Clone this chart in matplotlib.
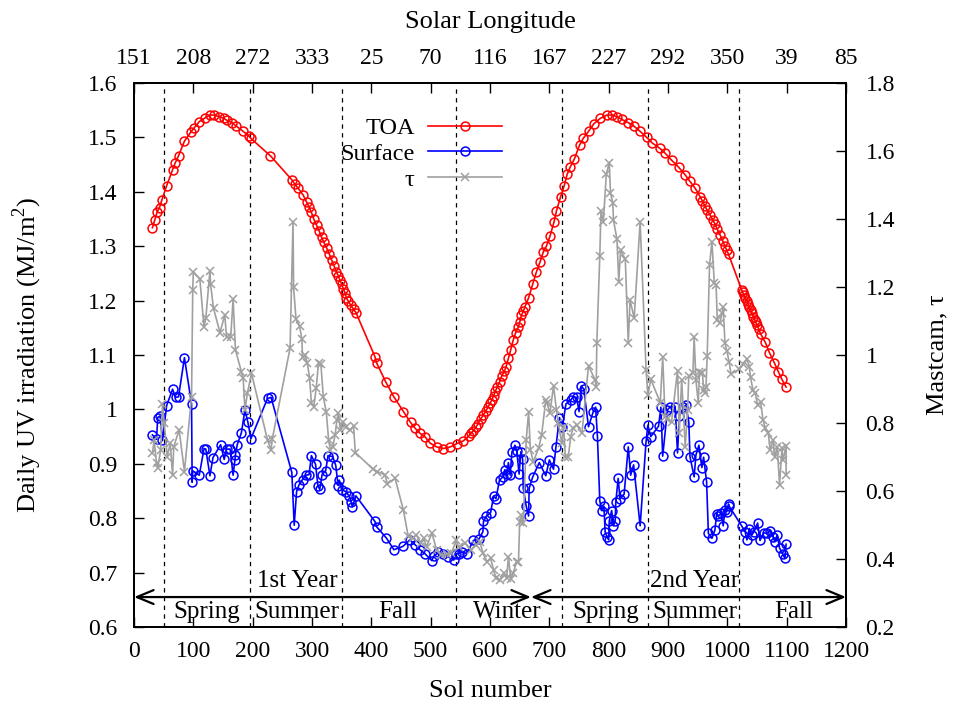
import matplotlib
matplotlib.use("Agg")
import matplotlib.pyplot as plt

plt.rcParams['font.family'] = ['Liberation Serif', 'DejaVu Serif']
plt.rcParams['mathtext.fontset'] = 'custom'
plt.rcParams['mathtext.rm'] = 'Liberation Serif'

# TOA daily UV (MJ/m^2); the second row of each list holds extra markers from the dense parts
toa_sol = [31, 35, 39, 43, 47, 55, 65, 69, 75, 85, 96, 101, 110, 120, 128, 134, 144, 151, 157, 165,
           172, 184, 193, 197, 230, 266, 271, 277, 285, 291, 299, 308, 316, 325, 333, 341, 347, 353,
           358, 365, 374, 406, 409, 424, 438, 454, 466, 474, 482, 491, 499, 510, 521, 533, 544, 555,
           564, 572, 580, 589, 597, 603, 609, 616, 627, 631, 639, 648, 653, 659, 665, 672, 678, 684,
           690, 695, 701, 708, 712, 719, 725, 730, 735, 742, 751, 757, 766, 775, 786, 797, 805, 814,
           822, 833, 842, 853, 864, 873, 886, 895, 906, 918, 929, 937, 946, 954, 962, 971, 979, 988,
           996, 1002, 1024, 1033, 1041, 1050, 1056, 1064, 1071, 1079, 1086, 1092, 1099,
           295, 303, 312, 320, 329, 337, 344, 350, 356, 361, 370, 568, 576, 584, 593, 600, 606, 612,
           620, 624, 635, 643, 650, 656, 958, 966, 975, 983, 992, 999, 1026, 1028, 1030, 1035, 1037,
           1039, 1044, 1046, 1048, 1053]
toa_val = [1.334, 1.348, 1.363, 1.371, 1.385, 1.411, 1.440, 1.452, 1.466, 1.493, 1.510, 1.517, 1.529,
           1.536, 1.541, 1.541, 1.538, 1.535, 1.531, 1.527, 1.521, 1.511, 1.503, 1.498, 1.466, 1.422,
           1.414, 1.406, 1.394, 1.381, 1.362, 1.338, 1.317, 1.296, 1.275, 1.253, 1.238, 1.221, 1.205,
           1.192, 1.178, 1.097, 1.085, 1.051, 1.023, 0.996, 0.976, 0.965, 0.956, 0.949, 0.938, 0.931,
           0.928, 0.931, 0.937, 0.942, 0.951, 0.961, 0.974, 0.990, 1.005, 1.017, 1.033, 1.050, 1.078,
           1.094, 1.127, 1.152, 1.173, 1.189, 1.205, 1.230, 1.252, 1.270, 1.290, 1.300, 1.318, 1.345,
           1.365, 1.391, 1.411, 1.432, 1.445, 1.460, 1.486, 1.498, 1.511, 1.525, 1.535, 1.541, 1.541,
           1.538, 1.533, 1.527, 1.521, 1.511, 1.500, 1.490, 1.480, 1.471, 1.458, 1.445, 1.431, 1.419,
           1.406, 1.391, 1.374, 1.357, 1.341, 1.320, 1.300, 1.285, 1.220, 1.199, 1.178, 1.155, 1.139,
           1.123, 1.104, 1.086, 1.069, 1.055, 1.041,
           1.372, 1.350, 1.328, 1.307, 1.286, 1.264, 1.246, 1.230, 1.213, 1.199, 1.184, 0.956, 0.967,
           0.982, 0.997, 1.011, 1.025, 1.041, 1.062, 1.070, 1.110, 1.140, 1.160, 1.180, 1.383, 1.366,
           1.349, 1.331, 1.310, 1.293, 1.215, 1.210, 1.205, 1.193, 1.188, 1.183, 1.170, 1.165, 1.160,
           1.147]

# Surface daily UV (MJ/m^2)
surf_sol = [31, 38, 40, 44, 48, 55, 65, 70, 75, 85, 97, 98, 99, 110, 118, 121, 128, 133, 146, 152,
            156, 162, 167, 170, 171, 174, 181, 187, 192, 197, 225, 231, 266, 270, 274, 278, 284, 290,
            295, 299, 306, 310, 313, 317, 323, 327, 335, 340, 344, 346, 350, 357, 363, 366, 368, 374,
            406, 409, 425, 438, 453, 465, 474, 482, 490, 502, 505, 513, 520, 530, 539, 542, 547, 552,
            561, 572, 581, 588, 589, 594, 601, 606, 610, 616, 622, 625, 628, 631, 634, 637, 642, 645,
            649, 652, 655, 656, 661, 665, 666, 672, 683, 694, 700, 707, 711, 717, 722, 728, 736, 740,
            746, 750, 754, 758, 766, 774, 778, 781, 785, 788, 792, 794, 797, 800, 801, 805, 808, 811,
            812, 816, 819, 826, 833, 837, 842, 853, 863, 866, 871, 884, 888, 891, 899, 903, 912, 916,
            919, 926, 930, 935, 937, 944, 947, 952, 957, 960, 965, 968, 974, 979, 982, 985, 989, 993,
            996, 999, 1002, 1003, 1024, 1030, 1033, 1037, 1041, 1045, 1051, 1055, 1061, 1066, 1072,
            1077, 1080, 1084, 1088, 1093, 1097, 1099]
surf_val = [0.953, 0.945, 0.985, 0.988, 0.943, 1.007, 1.037, 1.022, 1.023, 1.095, 1.010, 0.866, 0.887,
            0.879, 0.928, 0.927, 0.878, 0.911, 0.935, 0.908, 0.927, 0.927, 0.879, 0.906, 0.917, 0.935,
            0.957, 0.999, 0.976, 0.946, 1.020, 1.022, 0.884, 0.787, 0.849, 0.861, 0.871, 0.879, 0.880,
            0.915, 0.899, 0.859, 0.853, 0.880, 0.887, 0.915, 0.913, 0.897, 0.860, 0.870, 0.852, 0.849,
            0.840, 0.830, 0.821, 0.841, 0.794, 0.784, 0.764, 0.742, 0.748, 0.760, 0.751, 0.742, 0.735,
            0.722, 0.730, 0.737, 0.735, 0.729, 0.723, 0.734, 0.735, 0.738, 0.735, 0.759, 0.761, 0.775,
            0.794, 0.804, 0.810, 0.840, 0.836, 0.870, 0.876, 0.889, 0.881, 0.902, 0.879, 0.922, 0.934,
            0.924, 0.881, 0.922, 0.908, 0.855, 0.822, 0.804, 0.855, 0.876, 0.902, 0.878, 0.907, 0.890,
            0.930, 0.985, 0.968, 1.010, 1.017, 1.023, 1.022, 0.996, 1.043, 1.037, 0.968, 0.996, 1.004,
            0.951, 0.832, 0.814, 0.822, 0.775, 0.766, 0.760, 0.795, 0.814, 0.786, 0.795, 0.830, 0.873,
            0.836, 0.844, 0.931, 0.879, 0.898, 0.786, 0.941, 0.971, 0.950, 0.969, 1.004, 0.914, 0.999,
            1.004, 1.005, 0.920, 0.987, 1.004, 1.008, 0.977, 0.913, 0.876, 0.916, 0.934, 0.893, 0.912,
            0.867, 0.772, 0.763, 0.778, 0.808, 0.804, 0.809, 0.786, 0.815, 0.812, 0.826, 0.822, 0.786,
            0.775, 0.760, 0.781, 0.769, 0.775, 0.791, 0.759, 0.773, 0.772, 0.777, 0.766, 0.757, 0.769,
            0.745, 0.735, 0.726, 0.752]

# Mastcam optical depth
tau_sol = [31, 34, 38, 40, 45, 48, 51, 56, 61, 65, 67, 76, 85, 97, 99, 100, 111, 118, 121, 128, 129,
           134, 145, 153, 156, 163, 167, 171, 181, 184, 187, 191, 198, 225, 231, 233, 263, 268, 269,
           273, 279, 283, 284, 288, 292, 296, 299, 303, 307, 311, 315, 319, 324, 328, 331, 335, 339,
           342, 344, 348, 352, 357, 364, 370, 373, 403, 410, 423, 427, 440, 454, 462, 470, 476, 483,
           488, 493, 502, 510, 518, 527, 535, 543, 547, 558, 568, 577, 583, 588, 595, 601, 606, 610,
           617, 623, 628, 631, 635, 639, 645, 648, 650, 653, 656, 661, 665, 668, 673, 682, 687, 694,
           696, 701, 707, 712, 715, 721, 724, 727, 732, 736, 740, 746, 755, 766, 777, 779, 780, 785,
           787, 791, 796, 801, 803, 807, 808, 814, 817, 820, 828, 833, 836, 843, 853, 863, 866, 871,
           887, 891, 895, 899, 906, 916, 919, 923, 929, 933, 935, 942, 944, 947, 951, 953, 955, 958,
           960, 962, 964, 966, 970, 974, 978, 981, 983, 987, 991, 993, 996, 999, 1003, 1006, 1020,
           1027, 1033, 1037, 1039, 1043, 1047, 1051, 1056, 1060, 1064, 1069, 1072, 1077, 1080, 1084,
           1088, 1092, 1094, 1099, 1099]
tau_val = [0.711, 0.750, 0.681, 0.667, 0.721, 0.856, 0.799, 0.701, 0.740, 0.647, 0.730, 0.780, 0.657,
           0.877, 1.191, 1.245, 1.223, 1.081, 1.108, 1.248, 1.209, 1.137, 1.066, 1.118, 1.052, 1.052,
           1.164, 1.015, 0.951, 0.931, 0.838, 0.887, 0.946, 0.750, 0.721, 0.752, 1.020, 1.392, 1.199,
           1.105, 1.085, 1.046, 0.993, 1.000, 0.977, 0.931, 0.858, 0.848, 0.902, 0.977, 0.973, 0.877,
           0.833, 0.750, 0.721, 0.730, 0.765, 0.809, 0.828, 0.779, 0.804, 0.787, 0.779, 0.791, 0.713,
           0.664, 0.657, 0.647, 0.621, 0.637, 0.544, 0.468, 0.461, 0.471, 0.446, 0.461, 0.436, 0.476,
           0.427, 0.411, 0.414, 0.417, 0.455, 0.436, 0.446, 0.427, 0.441, 0.451, 0.417, 0.392, 0.402,
           0.368, 0.343, 0.338, 0.358, 0.343, 0.407, 0.340, 0.358, 0.392, 0.392, 0.510, 0.529, 0.505,
           0.750, 0.833, 0.721, 0.686, 0.726, 0.765, 0.868, 0.858, 0.829, 0.909, 0.838, 0.799, 0.740,
           0.789, 0.701, 0.701, 0.760, 0.785, 0.794, 0.770, 0.968, 0.927, 0.907, 1.036, 1.291, 1.422,
           1.392, 1.532, 1.566, 1.477, 1.446, 1.397, 1.340, 1.216, 1.309, 1.281, 1.036, 1.162, 1.108,
           1.392, 0.956, 0.882, 0.928, 0.860, 0.995, 0.819, 0.811, 0.804, 0.954, 0.770, 0.927, 0.730,
           0.838, 0.938, 0.948, 1.054, 0.927, 0.858, 0.951, 0.946, 0.948, 0.897, 0.889, 0.905, 0.997,
           1.265, 1.333, 1.211, 1.206, 1.103, 1.093, 1.122, 1.140, 1.034, 1.013, 0.980, 0.944, 0.958,
           0.973, 0.987, 0.966, 0.936, 0.897, 0.887, 0.853, 0.863, 0.809, 0.784, 0.770, 0.721, 0.750,
           0.699, 0.730, 0.618, 0.725, 0.691, 0.732, 0.647]

# season boundaries (sol) and labels
season_lines = [51, 196, 350, 543, 722, 866, 1019]
season_names = ['Spring', 'Summer', 'Fall', 'Winter', 'Spring', 'Summer', 'Fall']
season_pos = [123, 275, 445, 629, 795, 945, 1111]
year_names = ['1st Year', '2nd Year']
year_pos = [276, 945]
year_bounds = [0, 669, 1200]

sol_ticks = [0, 100, 200, 300, 400, 500, 600, 700, 800, 900, 1000, 1100, 1200]
ls_labels = ['151', '208', '272', '333', '25', '70', '116', '167', '227', '292', '350', '39', '85']
uv_ticks = [0.6, 0.7, 0.8, 0.9, 1.0, 1.1, 1.2, 1.3, 1.4, 1.5, 1.6]
tau_ticks = [0.2, 0.4, 0.6, 0.8, 1.0, 1.2, 1.4, 1.6, 1.8]

toa_pts = sorted(zip(toa_sol, toa_val))
toa_x = [p[0] for p in toa_pts]
toa_y = [p[1] for p in toa_pts]

fig = plt.figure(figsize=(9.71, 7.09), dpi=100)
ax = fig.add_axes([0.138, 0.1157, 0.7333, 0.7673])
ax3 = ax.twiny()
ax2 = ax.twinx()

ax.vlines(season_lines, 0.6, 1.59, colors='k', linestyles=(0, (3.5, 3.5)), lw=0.9)

h1, = ax.plot(toa_x, toa_y, color='#ff0000', lw=1.2, marker='o', ms=6.4,
              mfc='none', mew=1.1, label='TOA')
h2, = ax.plot(surf_sol, surf_val, color='#0000ff', lw=1.2, marker='o', ms=6.4,
              mfc='none', mew=1.1, label='Surface')
h3, = ax2.plot(tau_sol, tau_val, color='#a0a0a0', lw=1.2, marker='x', ms=6,
               mew=1.1, label='τ')

# year arrows
for i in range(len(year_bounds) - 1):
    ax.annotate('', xy=(year_bounds[i + 1], 0.655), xytext=(year_bounds[i], 0.655),
                arrowprops=dict(arrowstyle='<->,head_length=0.6,head_width=0.25',
                                lw=1.6, color='k', shrinkA=0, shrinkB=0,
                                mutation_scale=20))
for name, x in zip(year_names, year_pos):
    ax.text(x, 0.684, name, ha='center', va='center', fontsize=18)
for name, x in zip(season_names, season_pos):
    ax.text(x, 0.628, name, ha='center', va='center', fontsize=18)

ax.set_xlim(0, 1200)
ax.set_ylim(0.6, 1.6)
ax.set_xticks(sol_ticks)
ax.set_xticklabels([str(t) for t in sol_ticks])
ax.set_yticks(uv_ticks)
ax.set_yticklabels(['%g' % t for t in uv_ticks])
ax.tick_params(direction='in', length=7, width=1, labelsize=17, top=False, right=False)
ax.tick_params(axis='x', pad=10)
ax.tick_params(axis='y', pad=12)

ax2.set_ylim(0.2, 1.8)
ax2.set_yticks(tau_ticks)
ax2.set_yticklabels(['%g' % t for t in tau_ticks])
ax2.tick_params(direction='in', length=7, width=1, labelsize=17, pad=14)

ax3.set_xlim(0, 1200)
ax3.set_xticks(sol_ticks)
ax3.set_xticklabels(ls_labels)
ax3.tick_params(direction='in', length=7, width=1, labelsize=17, pad=10)

for a in (ax, ax2, ax3):
    for s in a.spines.values():
        s.set_linewidth(1.3)

ax.set_xlabel('Sol number', fontsize=19)
ax.xaxis.set_label_coords(0.5, -0.097)
ax.set_ylabel('Daily UV irradiation (MJ/m$^2$)', fontsize=19)
ax.yaxis.set_label_coords(-0.126, 0.5)
ax2.set_ylabel('Mastcam, τ', fontsize=19)
ax2.yaxis.set_label_coords(1.113, 0.5)
ax3.set_xlabel('Solar Longitude', fontsize=19)
ax3.xaxis.set_label_coords(0.5, 1.101)

ax3.legend([h1, h2, h3], ['TOA', 'Surface', 'τ'], loc='upper right',
           bbox_to_anchor=(0.517, 0.937), frameon=False, markerfirst=False,
           handlelength=3.05, handletextpad=0.55, labelspacing=0.15,
           borderpad=0, borderaxespad=0, fontsize=17.5)

fig.savefig('out.png', dpi=100)
